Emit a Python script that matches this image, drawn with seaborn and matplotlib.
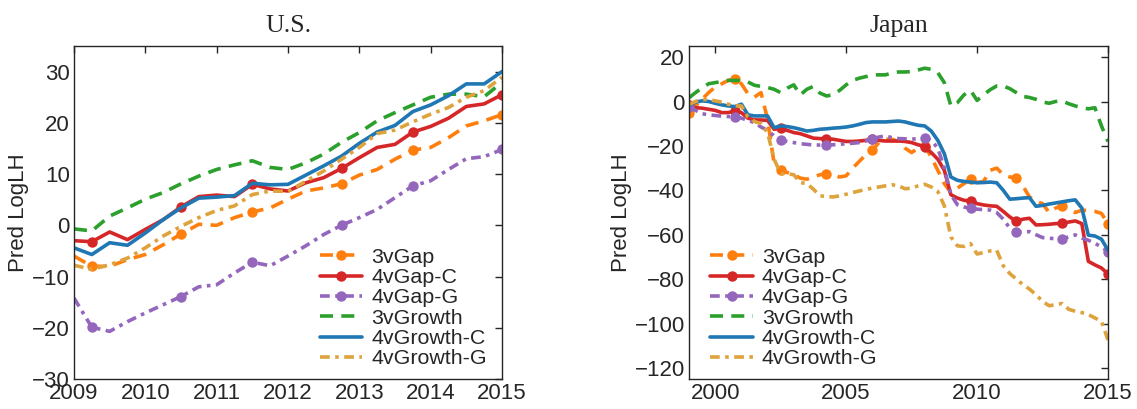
import numpy as np
import pandas as pd
import matplotlib
matplotlib.use("Agg")
import matplotlib.pyplot as plt
import seaborn as sns

# ---------------- data ----------------
series_names = ["3vGap", "4vGap-C", "4vGap-G", "3vGrowth", "4vGrowth-C", "4vGrowth-G"]

# U.S. quarterly, 2009.00 .. 2015.00
us_x = [2009 + 0.25 * i for i in range(25)]
us_3vGap = [-6.0, -8.0, -8.0, -6.7, -5.7, -3.8, -1.7, 0.2, 0.0, 1.5, 2.6, 3.4, 5.1,
            6.7, 7.3, 8.1, 9.8, 10.9, 12.9, 14.7, 15.2, 17.1, 19.4, 20.4, 21.6]
us_4vGapC = [-3.0, -3.2, -1.3, -2.8, -0.8, 1.1, 3.6, 5.6, 5.9, 5.6, 8.0, 7.1, 6.7,
             8.3, 9.3, 11.1, 13.2, 15.2, 15.8, 18.2, 19.3, 20.9, 23.2, 23.7, 25.5]
us_4vGapG = [-14.2, -19.9, -20.7, -18.8, -17.1, -15.5, -13.9, -12.0, -11.6, -9.3, -7.2, -7.9, -6.0,
             -4.0, -1.8, 0.0, 1.5, 3.1, 5.4, 7.7, 8.7, 10.9, 13.0, 13.4, 14.8]
us_3vGrowth = [-0.7, -1.1, 1.8, 3.4, 5.1, 6.4, 8.1, 9.6, 10.9, 11.8, 12.6, 11.3, 10.9,
               12.2, 13.9, 16.2, 18.1, 20.4, 22.0, 23.5, 25.0, 25.6, 25.6, 25.1, 27.9]
us_4vGrowthC = [-4.4, -5.7, -3.4, -3.9, -1.5, 1.1, 3.4, 5.3, 5.5, 5.8, 8.2, 7.9, 8.0,
                9.8, 11.6, 13.5, 16.0, 18.2, 19.5, 22.2, 23.5, 25.3, 27.6, 27.6, 30.0]
us_4vGrowthG = [-7.8, -8.6, -7.7, -6.4, -4.4, -2.1, -0.2, 1.5, 2.9, 3.8, 6.0, 6.7, 6.6,
                8.6, 10.6, 12.9, 15.2, 17.9, 18.6, 20.2, 21.7, 23.0, 25.0, 26.3, 28.9]
us_marks = [1, 6, 10, 15, 19, 24]

# Japan quarterly, 1999.00 .. 2015.00
jp_x = [1999 + 0.25 * i for i in range(65)]
jp_3vGap = [-5, -2, 1, 4, 6.5, 8, 9.5, 10, 8, 3.5, 2, 4,
            -8, -28, -31, -32, -33, -34.5, -35, -34, -33, -32.5, -33, -34,
            -33.5, -30, -27, -24, -22, -18.5, -17, -17, -18, -21, -23, -21,
            -20, -25, -31, -37, -41, -39, -37, -35, -36.5, -36, -31, -30,
            -33, -34, -34.3, -38, -43, -45, -46, -50, -48, -47, -48.5, -50,
            -49, -49, -49.5, -50.4, -55]
jp_4vGapC = [-1.7, -2.8, -3, -3.5, -4, -5, -5, -4.3, -5, -7.5, -8.3, -8.3,
             -8.5, -12.5, -12, -13, -14, -14.5, -15.5, -16.5, -16.7, -16.7, -17, -17.5,
             -18, -18, -17.8, -17.5, -17, -17.5, -17.8, -17.8, -17.8, -18, -18.5, -19.5,
             -20.3, -23, -26, -31, -42, -43.5, -44.5, -44.8, -46, -46.6, -47, -47.2,
             -49.5, -52, -54, -53, -52.6, -55.6, -55.5, -55.3, -55, -54.9, -54.3, -53.8,
             -55, -72, -73.6, -75, -77.7]
jp_4vGapG = [-2.5, -4, -5.5, -6, -6.3, -6.6, -6.8, -6.8, -7.5, -8.5, -9.5, -11.5,
             -13, -15.5, -17.3, -18, -18.5, -19, -19.3, -19.6, -19.6, -19.6, -19.5, -19.3,
             -19, -18.8, -18.5, -17.8, -17, -16, -15.5, -16.3, -16.7, -16.8, -17, -16.7,
             -16.3, -17.5, -21, -30, -42, -46.5, -47.5, -48.1, -48.5, -48.7, -48.9, -50,
             -53, -57, -58.9, -58.8, -58.6, -60, -61.3, -61.6, -61.8, -61.9, -61, -60.1,
             -61.5, -62.5, -63.9, -65.5, -67.6]
jp_3vGrowth = [1.7, 4, 6.2, 8, 8.5, 9, 9.5, 9.5, 9.5, 8.8, 7.3, 6.8,
               6.3, 5.5, 4, 6, 7.5, 3, 5.5, 6.8, 3.8, 2.5, 3, 5,
               7.5, 9.5, 10.5, 11.2, 12, 12, 12, 12.8, 13.3, 13.3, 13.5, 14.2,
               15, 14.5, 13, 8.5, -2, -0.5, 3, 5, 0.5, 3, 5.3, 7,
               7, 5.8, 4, 2.3, 1.8, 1, -0.2, -0.8, 0, 0.2, -1, -2,
               -2.8, -3.3, -2.8, -11, -18]
jp_4vGrowthC = [-1.7, -0.3, 0.3, 0, -0.8, -1.5, -2, -2.3, -1.2, -6, -6.5, -6.5,
                -6.5, -11.8, -11, -11.3, -11.8, -12.5, -13.3, -13, -12.5, -12.3, -12, -11.8,
                -11.5, -11, -10.3, -9.5, -9.2, -9.2, -9.2, -9, -8.8, -9.2, -10, -10.7,
                -11, -13.3, -17.5, -23.5, -34, -35.5, -36, -36.3, -36.6, -36.5, -36.3, -36.6,
                -40, -44, -43.8, -43.5, -43.3, -47.2, -46.8, -46.2, -45.7, -45.2, -44.7, -44.3,
                -48, -60.2, -60.6, -62, -67]
jp_4vGrowthG = [-1.3, 0, 1, 0.8, 0.3, -0.3, -1.2, -2, -2, -7, -9, -10,
                -14, -26, -32.5, -32.5, -33, -36.5, -37, -39.5, -42.5, -42.8, -43, -42.5,
                -41.8, -41, -40.3, -39.6, -39, -38.5, -38, -37.5, -38, -39.3, -39, -38,
                -37.3, -38.5, -40.5, -47, -61, -65, -65.3, -64, -68.7, -68, -67.3, -67,
                -74, -77.5, -80, -82.5, -84.5, -87, -90, -92, -91.5, -91, -93.6, -94.5,
                -95.1, -96, -97.5, -99, -107.4]
jp_marks = [0, 7, 14, 21, 28, 36, 43, 50, 57, 64]

us_xticks = [2009, 2010, 2011, 2012, 2013, 2014, 2015]
us_yticks = [-30, -20, -10, 0, 10, 20, 30]
jp_xticks = [2000, 2005, 2010, 2015]
jp_yticks = [-120, -100, -80, -60, -40, -20, 0, 20]

# ---------------- style ----------------
sns.set_style("white")
plt.rcParams["font.family"] = ["Liberation Sans", "DejaVu Sans"]

colors = ["#ff7f0e", "#d62728", "#9467bd", "#2ca02c", "#1f77b4", "#dea33c"]
dash = (0, (3.6, 2.3))
dashdot = (0, (2.7, 1.5, 1.0, 1.5))
styles = [dash, "-", dashdot, dash, "-", dashdot]
has_marker = [True, True, True, False, False, False]

fig = plt.figure(figsize=(11.37, 4.09), dpi=100)
ax1 = fig.add_axes([74 / 1137, 30 / 409, 428 / 1137, 333 / 409])
ax2 = fig.add_axes([689 / 1137, 30 / 409, 419 / 1137, 333 / 409])


def draw(ax, x, ys, marks):
    for name, y, c, ls, mk in zip(series_names, ys, colors, styles, has_marker):
        kw = dict(marker="o", markevery=marks, markersize=7.5, markeredgewidth=0) if mk else {}
        sns.lineplot(x=x, y=y, ax=ax, color=c, linestyle=ls, linewidth=2.6,
                     label=name, sort=False, estimator=None, **kw)


draw(ax1, us_x, [us_3vGap, us_4vGapC, us_4vGapG, us_3vGrowth, us_4vGrowthC, us_4vGrowthG], us_marks)
draw(ax2, jp_x, [jp_3vGap, jp_4vGapC, jp_4vGapG, jp_3vGrowth, jp_4vGrowthC, jp_4vGrowthG], jp_marks)

for ax, title, xl, yl, xt, yt, loc, anchor in [
    (ax1, "U.S.", (2009, 2015), (-30, 35), us_xticks, us_yticks, "lower right", (0.99, 0.0)),
    (ax2, "Japan", (1999, 2015), (-125, 25), jp_xticks, jp_yticks, "lower left", (0.025, 0.0)),
]:
    ax.set_xlim(*xl)
    ax.set_ylim(*yl)
    ax.set_xticks(xt)
    ax.set_yticks(yt)
    ax.tick_params(direction="in", length=5, width=1, top=True, right=True,
                   labelsize=16, colors="#262626", pad=3)
    for s in ax.spines.values():
        s.set_color("#262626")
        s.set_linewidth(1.0)
    ax.set_ylabel("Pred LogLH", fontsize=16, color="#262626", labelpad=2)
    ax.set_xlabel("")
    ax.set_title(title, fontsize=18.5, family=["Liberation Serif", "DejaVu Serif"], pad=10)
    ax.legend(loc=loc, bbox_to_anchor=anchor, frameon=False, fontsize=15.4, labelspacing=0.06,
              handlelength=2.0, handletextpad=0.42, borderpad=0.3, borderaxespad=0.2)

fig.savefig("out.png", dpi=100)
